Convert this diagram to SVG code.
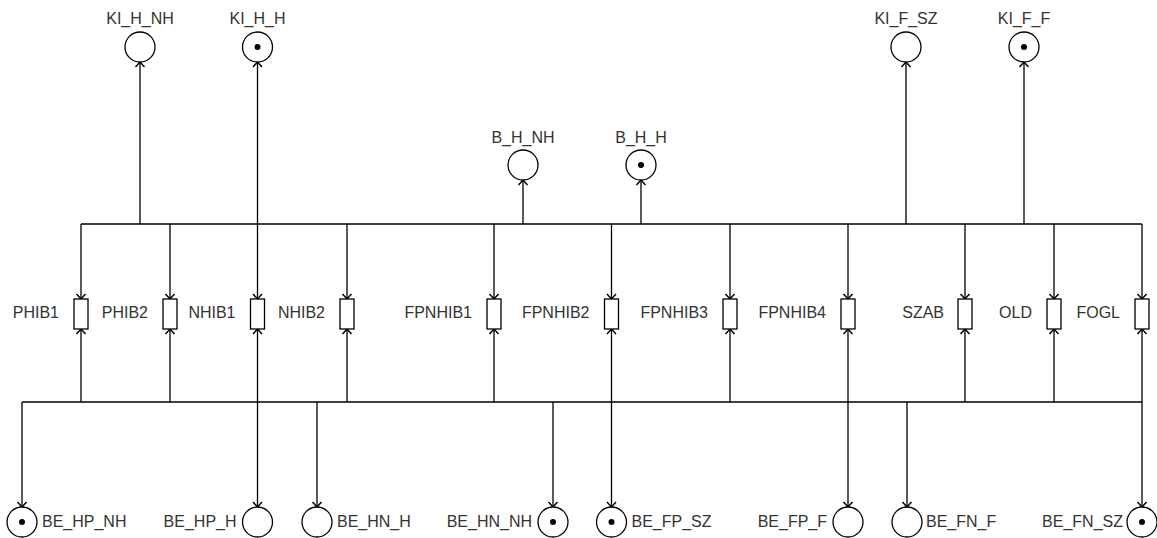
<svg xmlns="http://www.w3.org/2000/svg" width="1157" height="538" viewBox="0 0 1157 538">
<style>
.pl{fill:#fff;stroke:#000;stroke-width:1.3}
.tr{fill:#fff;stroke:#000;stroke-width:1.3}
.tok{fill:#000}
.lbl{font-family:"Liberation Sans",Arial,sans-serif;font-size:16px;fill:#333}
.c{text-anchor:middle}
.e{text-anchor:end}
.s{text-anchor:start}
.ln{fill:none;stroke:#000;stroke-width:1.3}
.ar{fill:none;stroke:#000;stroke-width:1.3;marker-end:url(#arr)}
</style>
<defs>
<marker id="arr" markerUnits="userSpaceOnUse" markerWidth="12" markerHeight="12" viewBox="0 0 12 12" refX="10" refY="6" orient="auto" overflow="visible">
<path d="M5,1.5 L10,6 L5,10.5" fill="none" stroke="#000" stroke-width="1.5"/>
</marker>
</defs>
<rect width="1157" height="538" fill="#fff"/>
<g id="connectors">
<line class="ln" x1="81" y1="224" x2="1142" y2="224"/>
<line class="ln" x1="22" y1="402" x2="1142" y2="402"/>
<line class="ar" x1="81" y1="224" x2="81" y2="299"/>
<line class="ar" x1="170" y1="224" x2="170" y2="299"/>
<line class="ar" x1="257.5" y1="224" x2="257.5" y2="299"/>
<line class="ar" x1="347" y1="224" x2="347" y2="299"/>
<line class="ar" x1="494" y1="224" x2="494" y2="299"/>
<line class="ar" x1="611.5" y1="224" x2="611.5" y2="299"/>
<line class="ar" x1="730" y1="224" x2="730" y2="299"/>
<line class="ar" x1="848" y1="224" x2="848" y2="299"/>
<line class="ar" x1="965" y1="224" x2="965" y2="299"/>
<line class="ar" x1="1054" y1="224" x2="1054" y2="299"/>
<line class="ar" x1="1142" y1="224" x2="1142" y2="299"/>
<line class="ar" x1="81" y1="402" x2="81" y2="329"/>
<line class="ar" x1="170" y1="402" x2="170" y2="329"/>
<line class="ar" x1="257.5" y1="402" x2="257.5" y2="329"/>
<line class="ar" x1="347" y1="402" x2="347" y2="329"/>
<line class="ar" x1="494" y1="402" x2="494" y2="329"/>
<line class="ar" x1="611.5" y1="402" x2="611.5" y2="329"/>
<line class="ar" x1="730" y1="402" x2="730" y2="329"/>
<line class="ar" x1="848" y1="402" x2="848" y2="329"/>
<line class="ar" x1="965" y1="402" x2="965" y2="329"/>
<line class="ar" x1="1054" y1="402" x2="1054" y2="329"/>
<line class="ar" x1="1142" y1="402" x2="1142" y2="329"/>
<line class="ar" x1="140" y1="224" x2="140" y2="62"/>
<line class="ar" x1="257.5" y1="224" x2="257.5" y2="62"/>
<line class="ar" x1="523" y1="224" x2="523" y2="180"/>
<line class="ar" x1="641" y1="224" x2="641" y2="180"/>
<line class="ar" x1="906" y1="224" x2="906" y2="62"/>
<line class="ar" x1="1024" y1="224" x2="1024" y2="62"/>
<line class="ar" x1="22" y1="402" x2="22" y2="507"/>
<line class="ar" x1="257.5" y1="402" x2="257.5" y2="507"/>
<line class="ar" x1="317" y1="402" x2="317" y2="507"/>
<line class="ar" x1="553" y1="402" x2="553" y2="507"/>
<line class="ar" x1="611.5" y1="402" x2="611.5" y2="507"/>
<line class="ar" x1="848" y1="402" x2="848" y2="507"/>
<line class="ar" x1="907" y1="402" x2="907" y2="507"/>
<line class="ar" x1="1142" y1="402" x2="1142" y2="507"/>
</g>
<g id="KI_H_NH"><circle class="pl" cx="140" cy="47" r="15"/><text class="lbl c" x="140" y="24">KI_H_NH</text></g>
<g id="KI_H_H"><circle class="pl" cx="257.5" cy="47" r="15"/><circle class="tok" cx="257.5" cy="47" r="3"/><text class="lbl c" x="257.5" y="24">KI_H_H</text></g>
<g id="B_H_NH"><circle class="pl" cx="523" cy="165" r="15"/><text class="lbl c" x="523" y="143">B_H_NH</text></g>
<g id="B_H_H"><circle class="pl" cx="641" cy="165" r="15"/><circle class="tok" cx="641" cy="165" r="3"/><text class="lbl c" x="641" y="143">B_H_H</text></g>
<g id="KI_F_SZ"><circle class="pl" cx="906" cy="47" r="15"/><text class="lbl c" x="906" y="24">KI_F_SZ</text></g>
<g id="KI_F_F"><circle class="pl" cx="1024" cy="47" r="15"/><circle class="tok" cx="1024" cy="47" r="3"/><text class="lbl c" x="1024" y="24">KI_F_F</text></g>
<g id="PHIB1"><rect class="tr" x="74" y="299" width="14" height="30"/><text class="lbl e" x="59" y="318">PHIB1</text></g>
<g id="PHIB2"><rect class="tr" x="163" y="299" width="14" height="30"/><text class="lbl e" x="148" y="318">PHIB2</text></g>
<g id="NHIB1"><rect class="tr" x="250.5" y="299" width="14" height="30"/><text class="lbl e" x="235.5" y="318">NHIB1</text></g>
<g id="NHIB2"><rect class="tr" x="340" y="299" width="14" height="30"/><text class="lbl e" x="325" y="318">NHIB2</text></g>
<g id="FPNHIB1"><rect class="tr" x="487" y="299" width="14" height="30"/><text class="lbl e" x="472" y="318">FPNHIB1</text></g>
<g id="FPNHIB2"><rect class="tr" x="604.5" y="299" width="14" height="30"/><text class="lbl e" x="589.5" y="318">FPNHIB2</text></g>
<g id="FPNHIB3"><rect class="tr" x="723" y="299" width="14" height="30"/><text class="lbl e" x="708" y="318">FPNHIB3</text></g>
<g id="FPNHIB4"><rect class="tr" x="841" y="299" width="14" height="30"/><text class="lbl e" x="826" y="318">FPNHIB4</text></g>
<g id="SZAB"><rect class="tr" x="958" y="299" width="14" height="30"/><text class="lbl e" x="944" y="318">SZAB</text></g>
<g id="OLD"><rect class="tr" x="1047" y="299" width="14" height="30"/><text class="lbl e" x="1032" y="318">OLD</text></g>
<g id="FOGL"><rect class="tr" x="1135" y="299" width="14" height="30"/><text class="lbl e" x="1120" y="318">FOGL</text></g>
<g id="BE_HP_NH"><circle class="pl" cx="22" cy="522" r="15"/><circle class="tok" cx="22" cy="522" r="3"/><text class="lbl s" x="42" y="527">BE_HP_NH</text></g>
<g id="BE_HP_H"><circle class="pl" cx="257.5" cy="522" r="15"/><text class="lbl e" x="236.5" y="527">BE_HP_H</text></g>
<g id="BE_HN_H"><circle class="pl" cx="317" cy="522" r="15"/><text class="lbl s" x="337" y="527">BE_HN_H</text></g>
<g id="BE_HN_NH"><circle class="pl" cx="553" cy="522" r="15"/><circle class="tok" cx="553" cy="522" r="3"/><text class="lbl e" x="532" y="527">BE_HN_NH</text></g>
<g id="BE_FP_SZ"><circle class="pl" cx="611.5" cy="522" r="15"/><circle class="tok" cx="611.5" cy="522" r="3"/><text class="lbl s" x="631.5" y="527">BE_FP_SZ</text></g>
<g id="BE_FP_F"><circle class="pl" cx="848" cy="522" r="15"/><text class="lbl e" x="827" y="527">BE_FP_F</text></g>
<g id="BE_FN_F"><circle class="pl" cx="907" cy="522" r="15"/><text class="lbl s" x="926" y="527">BE_FN_F</text></g>
<g id="BE_FN_SZ"><circle class="pl" cx="1142" cy="522" r="15"/><circle class="tok" cx="1142" cy="522" r="3"/><text class="lbl e" x="1123" y="527">BE_FN_SZ</text></g>
</svg>
